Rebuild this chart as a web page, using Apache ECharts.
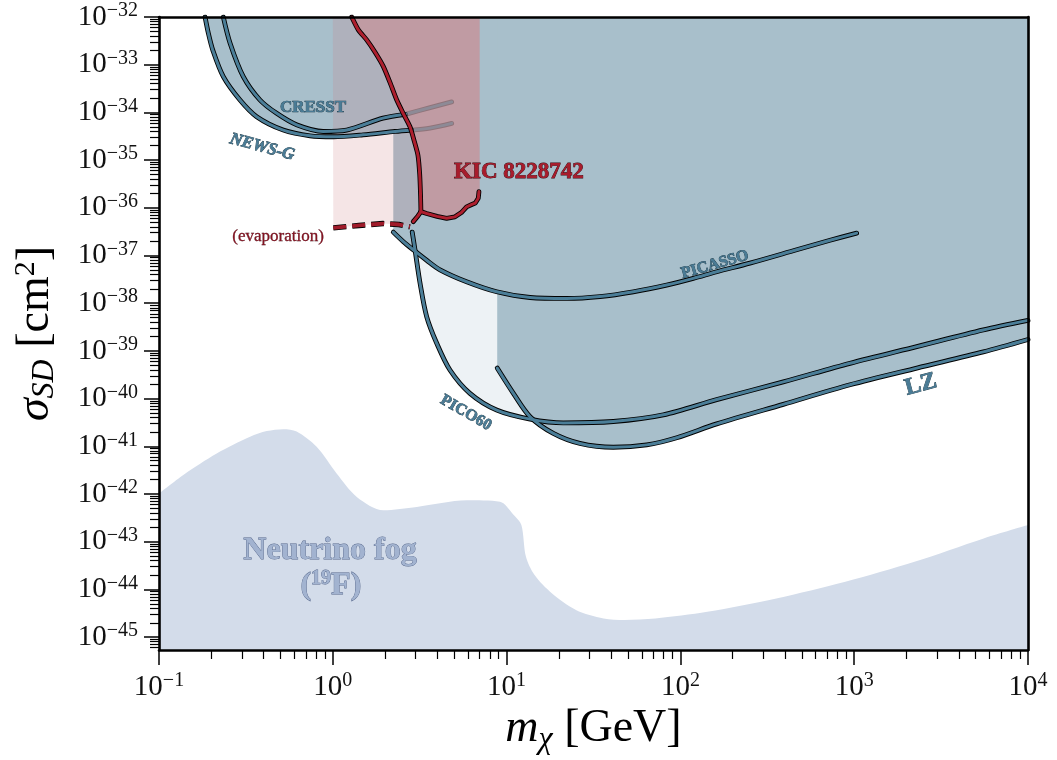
<!DOCTYPE html>
<html><head><meta charset="utf-8">
<script src="https://cdn.jsdelivr.net/npm/echarts@6/dist/echarts.min.js"></script>
<style>html,body{margin:0;padding:0;background:#fff}#c{width:1057px;height:760px}</style>
</head><body><div id="c"></div>
<script>
// All points are [log10(m_chi / GeV), log10(sigma_SD / cm^2)].
const xTickExps = [-1, 0, 1, 2, 3, 4];
const yTickExps = [-45, -44, -43, -42, -41, -40, -39, -38, -37, -36, -35, -34, -33, -32];
const xMin = -1, xMax = 4, yMin = -45.27, yMax = -32;

const newsG = [[-0.735,-32.00],[-0.716,-32.34],[-0.690,-32.70],[-0.630,-33.25],[-0.534,-33.74],[-0.438,-34.09],[-0.285,-34.37],[-0.131,-34.49],[0.003,-34.51],[0.174,-34.47],[0.358,-34.40],[0.454,-34.37],[0.559,-34.33],[0.684,-34.23]];
const cresst = [[-0.630,-32.00],[-0.591,-32.55],[-0.515,-33.25],[-0.419,-33.74],[-0.323,-34.02],[-0.208,-34.26],[-0.055,-34.40],[0.080,-34.37],[0.289,-34.12],[0.418,-34.04],[0.560,-33.90],[0.684,-33.78]];
const picasso = [[0.348,-36.51],[0.406,-36.71],[0.463,-36.88],[0.540,-37.10],[0.617,-37.30],[0.770,-37.55],[0.943,-37.76],[1.135,-37.88],[1.346,-37.90],[1.537,-37.86],[1.729,-37.76],[1.921,-37.62],[2.074,-37.48],[2.209,-37.34],[2.400,-37.16],[2.669,-36.88],[2.861,-36.68],[3.014,-36.53]];
const pico60 = [[0.457,-36.51],[0.473,-36.88],[0.502,-37.58],[0.540,-38.28],[0.598,-38.84],[0.674,-39.40],[0.789,-39.89],[0.943,-40.24],[1.135,-40.43],[1.326,-40.51],[1.614,-40.48],[1.902,-40.34],[2.209,-40.02],[2.592,-39.65],[2.976,-39.26],[3.360,-38.91],[3.743,-38.56],[4.000,-38.36]];
const lz = [[0.946,-39.36],[1.039,-39.89],[1.135,-40.38],[1.269,-40.73],[1.422,-40.94],[1.614,-41.02],[1.806,-40.97],[1.979,-40.82],[2.209,-40.53],[2.592,-40.12],[2.976,-39.71],[3.360,-39.36],[3.743,-39.02],[4.000,-38.76]];
const kicDrop = [[0.109,-32.00],[0.147,-32.27],[0.195,-32.48],[0.245,-32.75],[0.291,-33.04],[0.330,-33.38],[0.368,-33.74],[0.405,-34.02],[0.444,-34.30],[0.470,-34.62],[0.490,-34.90],[0.500,-35.30],[0.505,-35.75],[0.507,-36.08]];
const kicFloor = [[0.507,-36.08],[0.540,-36.12],[0.600,-36.18],[0.655,-36.22],[0.703,-36.19],[0.740,-36.10],[0.770,-35.98],[0.800,-35.93],[0.820,-35.90],[0.837,-35.80],[0.841,-35.66]];
const kicHook = [[0.507,-36.08],[0.490,-36.17],[0.463,-36.29]];
const evaporation = [[0.003,-36.42],[0.150,-36.37],[0.289,-36.33],[0.380,-36.35],[0.444,-36.40]];
const neutrinoFog = [[-1.000,-41.99],[-0.860,-41.60],[-0.668,-41.15],[-0.476,-40.80],[-0.380,-40.68],[-0.285,-40.64],[-0.208,-40.69],[-0.093,-41.01],[0.022,-41.57],[0.138,-42.06],[0.291,-42.34],[0.483,-42.27],[0.770,-42.13],[0.962,-42.16],[1.041,-42.44],[1.085,-42.65],[1.111,-43.31],[1.161,-43.70],[1.260,-44.08],[1.399,-44.43],[1.558,-44.61],[1.678,-44.64],[1.856,-44.61],[2.155,-44.47],[2.552,-44.19],[2.949,-43.84],[3.347,-43.42],[3.745,-42.93],[4.000,-42.65]];

// region edges (log10 GeV)
const pinkMassMin = 0.0;      // 1 GeV
const blueCutLow = 0.358;     // ~2.3 GeV
const kicMassMax = 0.845;     // 7 GeV
const newsGFadeX = 0.454;     // lines fade where they enter the KIC region
const cresstFadeX = 0.418;

const annotations = [
  {x:-0.114, y:-33.89, text:'CRESST', rot:0, size:17, kind:'blue'},
  {x:-0.407, y:-34.73, text:'NEWS-G', rot:-15, size:17, kind:'blueItalic'},
  {x:2.199, y:-37.19, text:'PICASSO', rot:16, size:16, kind:'blue'},
  {x:0.766, y:-40.30, text:'PICO60', rot:-30, size:16, kind:'blue'},
  {x:3.384, y:-39.71, text:'LZ', rot:15, size:24, kind:'blue'},
  {x:1.071, y:-35.25, text:'KIC 8228742', rot:0, size:23, kind:'red'},
  {x:-0.315, y:-36.61, text:'(evaporation)', rot:0, size:17, kind:'darkred'},
  {x:-0.016, y:-43.19, text:'Neutrino fog', rot:0, size:32, kind:'fog'},
  {x:-0.011, y:-43.93, text:'{n|(}{sup|19}{n|F)}', rot:0, size:32, kind:'fog'}
];

const FONT = '"Liberation Serif", "Times New Roman", serif';
const BLUE_LINE = '#4b7e98', BLUE_FILL = '#a8bfcb', RED = '#ad1f2e';
const labelStyles = {
  blue: {fill:'#4a7b95', stroke:'#14303d', lw:0.7, weight:'bold', italic:false},
  blueItalic: {fill:'#4a7b95', stroke:'#14303d', lw:0.7, weight:'bold', italic:true},
  red: {fill:'#a81c2c', stroke:'#3a070d', lw:0.8, weight:'bold', italic:false},
  darkred: {fill:'#841322', stroke:'#3a070d', lw:0.3, weight:'normal', italic:false},
  fog: {fill:'#a2b3d0', stroke:'#55668a', lw:0.8, weight:'bold', italic:false}
};

function interpAt(arr, x) {
  for (let i = 0; i < arr.length - 1; i++) {
    const a = arr[i], b = arr[i + 1];
    if ((x - a[0]) * (x - b[0]) <= 0) { const t = (x - a[0]) / (b[0] - a[0]); return a[1] + t * (b[1] - a[1]); }
  }
  return arr[arr.length - 1][1];
}
function upTo(arr, x) { const o = arr.filter(p => p[0] < x); o.push([x, interpAt(arr, x)]); return o; }
function fromX(arr, x) { return [[x, interpAt(arr, x)]].concat(arr.filter(p => p[0] > x)); }

const minorX = [];
for (let n = Math.floor(xMin); n < xMax; n++) for (let k = 2; k <= 9; k++) minorX.push(n + Math.log10(k));
const minorY = [];
for (let n = Math.floor(yMin); n < yMax; n++) for (let k = 2; k <= 9; k++) { const v = n + Math.log10(k); if (v >= yMin && v <= yMax) minorY.push(v); }

function areaSeries(data, color, origin, z) {
  return {type:'line', data, z, silent:true, symbol:'none', smooth:0.3,
    lineStyle:{width:0, opacity:0}, areaStyle:{color, opacity:1, origin}};
}
function polySeries(points, fill, z) {
  return {type:'custom', z, silent:true, data:[[points[0][0], points[0][1]]],
    renderItem: function (params, api) {
      return {type:'polygon', shape:{points: points.map(p => api.coord(p))}, style:{fill}};
    }};
}
function outlined(data, color, z, opt) {
  opt = opt || {};
  const smooth = opt.smooth === undefined ? 0.3 : opt.smooth;
  const base = {type:'line', data, silent:true, symbol:'none', smooth};
  return [
    Object.assign({}, base, {z, lineStyle:{color:'#000', width:opt.outer || 4.8, cap:opt.cap || 'round', join:'round', opacity:opt.oOp === undefined ? 1 : opt.oOp, type:opt.dash || 'solid'}}),
    Object.assign({}, base, {z:z + 0.1, lineStyle:{color, width:opt.inner || 3, cap:opt.cap || 'round', join:'round', opacity:opt.iOp === undefined ? 1 : opt.iOp, type:opt.dash || 'solid'}})
  ];
}

const pinkPoly = [[pinkMassMin, yMax]].concat(evaporation.filter(p => p[0] >= pinkMassMin), kicHook.slice().reverse(), kicDrop.slice().reverse());
const kicPoly = kicDrop.concat(kicFloor.slice(1), [[kicMassMax, kicFloor[kicFloor.length - 1][1]], [kicMassMax, yMax]]);

const series = [].concat(
  [areaSeries(neutrinoFog, '#d3dcea', 'start', 1)],
  [areaSeries(pico60, '#edf2f5', 'end', 1.1)],
  [areaSeries(upTo(newsG, blueCutLow), BLUE_FILL, 'end', 1.2)],
  [areaSeries(picasso, BLUE_FILL, 'end', 1.2)],
  [areaSeries(lz, BLUE_FILL, 'end', 1.2)],
  [polySeries(pinkPoly, 'rgba(205,125,130,0.2)', 1.5)],
  [polySeries(kicPoly, 'rgba(215,119,123,0.5)', 1.6)],
  outlined(upTo(newsG, newsGFadeX), BLUE_LINE, 3),
  outlined(upTo(cresst, cresstFadeX), BLUE_LINE, 3),
  outlined(fromX(newsG, newsGFadeX), '#8aa6b8', 3, {oOp:0.25, iOp:0.45}),
  outlined(fromX(cresst, cresstFadeX), '#8aa6b8', 3, {oOp:0.25, iOp:0.45}),
  outlined(picasso, BLUE_LINE, 3),
  outlined(pico60, BLUE_LINE, 3),
  outlined(lz, BLUE_LINE, 3),
  outlined(kicDrop, RED, 4, {smooth:0.2}),
  outlined(kicFloor, RED, 4, {smooth:false}),
  outlined(kicHook, RED, 4, {smooth:false}),
  outlined(evaporation, '#a01b2a', 4, {smooth:false, cap:'butt', dash:[13, 6], outer:5.4, inner:3.8}),
  [{type:'custom', z:8, silent:true, data: annotations.map(a => [a.x, a.y]),
    renderItem: function (params, api) {
      const a = annotations[params.dataIndex];
      const st = labelStyles[a.kind];
      const p = api.coord([a.x, a.y]);
      const font = (st.italic ? 'italic ' : '') + st.weight + ' ' + a.size + 'px ' + FONT;
      return {type:'text', x:p[0], y:p[1], rotation: a.rot * Math.PI / 180,
        style:{text:a.text, x:0, y:0, align:'center', verticalAlign:'middle', font,
          fill:st.fill, stroke:st.stroke, lineWidth:st.lw,
          rich:{
            n:{font, fill:st.fill, stroke:st.stroke, lineWidth:st.lw, lineHeight:34},
            sup:{font: st.weight + ' 20px ' + FONT, fill:st.fill, stroke:st.stroke, lineWidth:st.lw, lineHeight:22, verticalAlign:'top'}
          }}};
    }}]
);

function expLabel(v) { const n = Math.round(v); return '{b|10}{s|' + (n < 0 ? '\u2212' + (-n) : n) + '}'; }
const richTick = {
  b:{fontSize:29, lineHeight:32, fontFamily:FONT, color:'#111'},
  s:{fontSize:20, lineHeight:18, fontFamily:FONT, color:'#111', verticalAlign:'top'}
};
const frameLine = {onZero:false, lineStyle:{color:'#000', width:2.6}};
const noSplit = {show:false};

const option = {
  animation:false,
  backgroundColor:'#fff',
  grid:{left:159, right:29, top:17, bottom:110, outerBoundsMode:'none'},
  xAxis:[
    {type:'value', min:xMin, max:xMax, position:'bottom', z:10, splitLine:noSplit,
     axisLine:frameLine,
     axisTick:{show:true, customValues:xTickExps, length:15, lineStyle:{color:'#000', width:1.5}},
     axisLabel:{show:true, customValues:xTickExps, formatter:expLabel, margin:21, rich:richTick},
     name:'{i|m}{sub|\u03c7}{n| [GeV]}', nameLocation:'middle', nameGap:51,
     nameTextStyle:{rich:{
       i:{fontSize:46, fontStyle:'italic', fontFamily:FONT, color:'#000', lineHeight:52},
       sub:{fontSize:32, fontStyle:'italic', fontFamily:FONT, color:'#000', lineHeight:29, verticalAlign:'bottom'},
       n:{fontSize:46, fontFamily:FONT, color:'#000', lineHeight:52}}}},
    {type:'value', min:xMin, max:xMax, position:'bottom', z:10, splitLine:noSplit,
     axisLine:{show:false, onZero:false},
     axisTick:{show:true, customValues:minorX, length:9, lineStyle:{color:'#000', width:1.2}},
     axisLabel:{show:false}},
    {type:'value', min:xMin, max:xMax, position:'top', z:10, splitLine:noSplit,
     axisLine:frameLine, axisTick:{show:false}, axisLabel:{show:false}}
  ],
  yAxis:[
    {type:'value', min:yMin, max:yMax, position:'left', z:10, splitLine:noSplit,
     axisLine:frameLine,
     axisTick:{show:true, customValues:yTickExps, length:15, lineStyle:{color:'#000', width:1.5}},
     axisLabel:{show:true, customValues:yTickExps, formatter:expLabel, margin:21, rich:richTick},
     name:'{i|\u03c3}{sub|SD}{n| [cm}{sup|2}{n|]}', nameLocation:'middle', nameRotate:90, nameGap:98,
     nameTextStyle:{rich:{
       i:{fontSize:46, fontStyle:'italic', fontFamily:FONT, color:'#000', lineHeight:50},
       sub:{fontSize:32, fontStyle:'italic', fontFamily:FONT, color:'#000', lineHeight:28, verticalAlign:'bottom'},
       sup:{fontSize:30, fontFamily:FONT, color:'#000', lineHeight:30, verticalAlign:'top'},
       n:{fontSize:46, fontFamily:FONT, color:'#000', lineHeight:50}}}},
    {type:'value', min:yMin, max:yMax, position:'left', z:10, splitLine:noSplit,
     axisLine:{show:false, onZero:false},
     axisTick:{show:true, customValues:minorY, length:9, lineStyle:{color:'#000', width:1.2}},
     axisLabel:{show:false}},
    {type:'value', min:yMin, max:yMax, position:'right', z:10, splitLine:noSplit,
     axisLine:frameLine, axisTick:{show:false}, axisLabel:{show:false}}
  ],
  series: series
};

const chart = echarts.init(document.getElementById('c'), null, {renderer:'canvas'});
chart.setOption(option);
</script>
</body></html>
